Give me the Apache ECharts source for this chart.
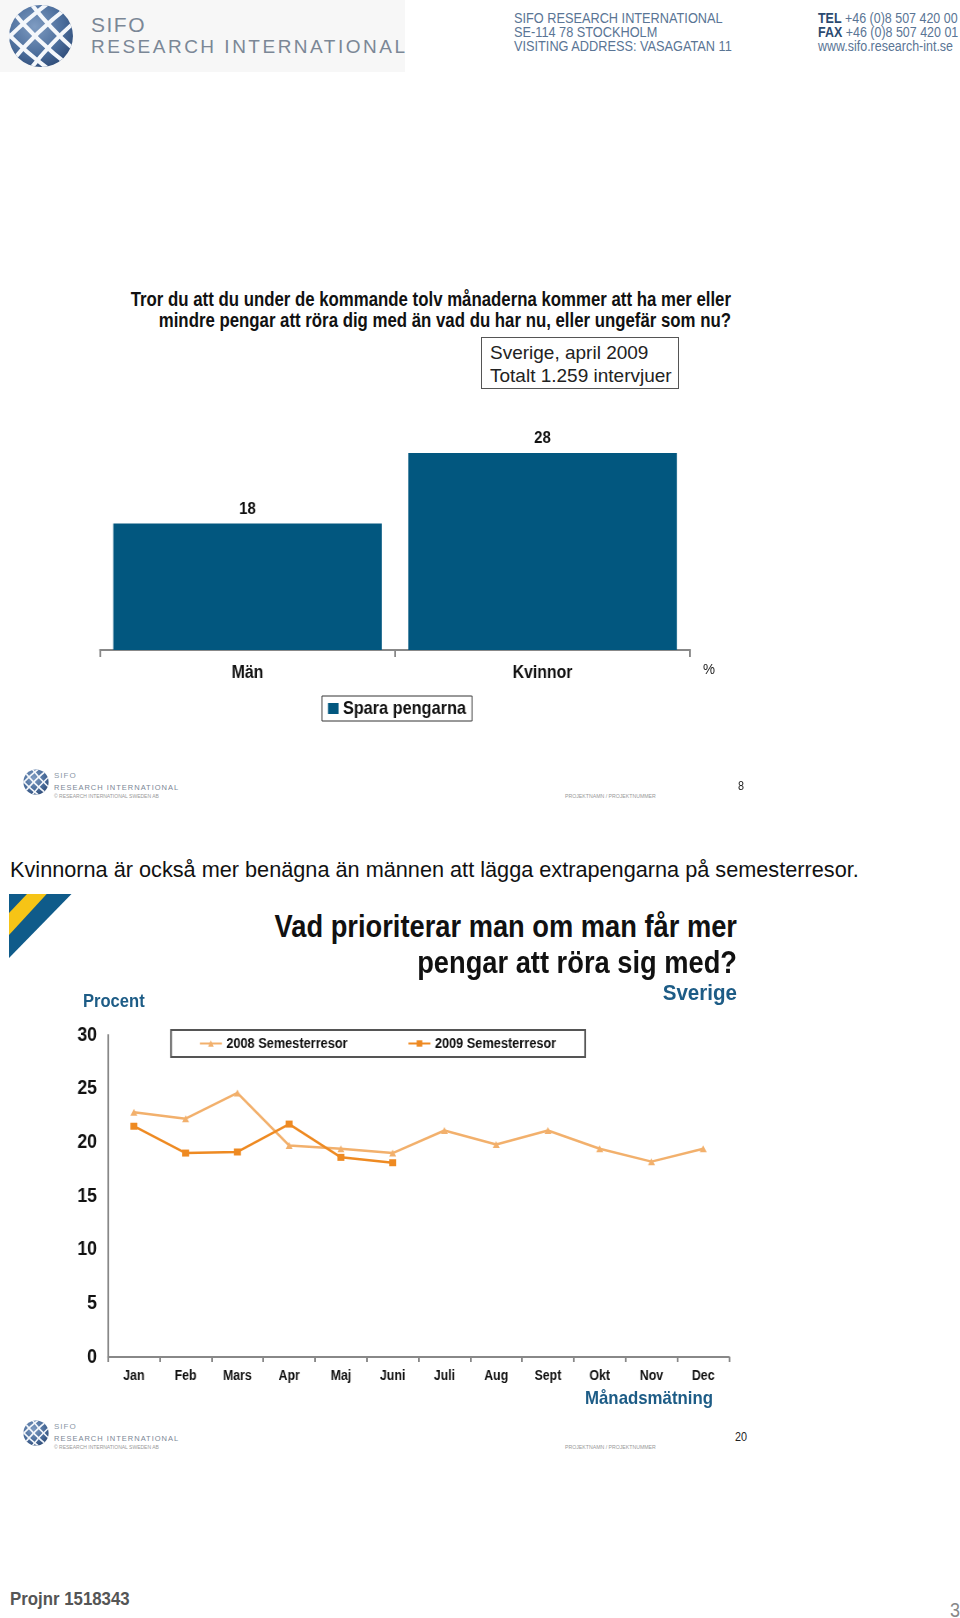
<!DOCTYPE html>
<html><head><meta charset="utf-8">
<script src="https://cdn.jsdelivr.net/npm/echarts@6/dist/echarts.min.js"></script>
<style>
html,body{margin:0;padding:0;background:#fff;}
#page{position:relative;width:960px;height:1618px;overflow:hidden;background:#fff;font-family:"Liberation Sans",Arial,sans-serif;}
.t{position:absolute;white-space:nowrap;line-height:1.15;}
.ch{position:absolute;left:0;transform-origin:0 0;}
</style></head><body><div id="page">
<div style="position:absolute;left:0;top:0;width:405px;height:72px;background:#f7f7f7"></div>
<div id="c1" class="ch"></div>
<div id="c2" class="ch"></div>
</div>
<script>
// ---- data ----
const barCategories = ['Män', 'Kvinnor'];
const barValues = [18, 28];
const barSeriesName = 'Spara pengarna';
const months = ['Jan','Feb','Mars','Apr','Maj','Juni','Juli','Aug','Sept','Okt','Nov','Dec'];
const sem2008 = [22.8, 22.2, 24.6, 19.7, 19.4, 19.0, 21.1, 19.8, 21.1, 19.4, 18.2, 19.4];
const sem2009 = [21.5, 19.0, 19.1, 21.7, 18.6, 18.1];
const lineNames = ['2008 Semesterresor', '2009 Semesterresor'];
const yTicks = {min: 0, max: 30, interval: 5};

const REG = '"Liberation Sans",Arial,sans-serif';
const BLUE = '#1d5c86';
const page = document.getElementById('page');

// text helper: x,y = anchor point (y = vertical centre); sx = horizontal condensing
function T(txt, x, y, o) {
  o = o || {};
  const d = document.createElement('div');
  d.className = 't';
  if (o.html) d.innerHTML = txt; else d.textContent = txt;
  d.style.left = x + 'px'; d.style.top = y + 'px';
  d.style.fontSize = (o.s || 14) + 'px';
  if (o.b) d.style.fontWeight = 'bold';
  d.style.fontFamily = REG;
  d.style.color = o.c || '#111';
  if (o.ls) d.style.letterSpacing = o.ls + 'px';
  const ax = o.a === 'r' ? 100 : (o.a === 'c' ? 50 : 0);
  d.style.transformOrigin = ax + '% 50%';
  d.style.transform = 'translate(-' + ax + '%,-50%) scaleX(' + (o.sx || 1) + ')';
  page.appendChild(d);
  return d;
}

function logo(x, y, w, h, id) {
  const s = document.createElementNS('http://www.w3.org/2000/svg', 'svg');
  s.setAttribute('width', w); s.setAttribute('height', h);
  s.setAttribute('viewBox', '0 0 64 64');
  s.setAttribute('preserveAspectRatio', 'none');
  s.style.position = 'absolute'; s.style.left = x + 'px'; s.style.top = y + 'px';
  let lines = '';
  [-24, 0, 24].forEach(c => {
    lines += '<path d="M' + (-6 + c) + ' -6 Q' + (26 + c) + ' 38 ' + (70 + c) + ' 70"/>';
    lines += '<path d="M' + (70 + c) + ' -6 Q' + (26 + c) + ' 26 ' + (-6 + c) + ' 70"/>';
  });
  s.innerHTML = '<defs><radialGradient id="g' + id + '" cx="40%" cy="35%" r="75%"><stop offset="0" stop-color="#7f9cc2"/><stop offset="0.6" stop-color="#4b6d9b"/><stop offset="1" stop-color="#2a4672"/></radialGradient>' +
    '<clipPath id="cp' + id + '"><ellipse cx="32" cy="32" rx="31" ry="31"/></clipPath></defs>' +
    '<ellipse cx="32" cy="32" rx="31" ry="31" fill="url(#g' + id + ')"/>' +
    '<g clip-path="url(#cp' + id + ')" stroke="#f4f7fb" stroke-width="4" fill="none">' + lines + '</g>';
  page.appendChild(s);
}

// ---- header ----
logo(8, 4, 66, 64, 'h');
T('SIFO', 91, 25, {s: 21, c: '#7b8796', ls: 1.5});
T('RESEARCH INTERNATIONAL', 91, 47, {s: 19, c: '#7b8796', ls: 2.5});
const HC = '#5a7595';
T('SIFO RESEARCH INTERNATIONAL', 514, 18, {s: 14, c: HC, sx: 0.91});
T('SE-114 78 STOCKHOLM', 514, 32, {s: 14, c: HC, sx: 0.91});
T('VISITING ADDRESS: VASAGATAN 11', 514, 46, {s: 14, c: HC, sx: 0.91});
T('<b style="color:#2b4a70">TEL</b> +46 (0)8 507 420 00', 818, 18, {s: 14, c: HC, html: 1, sx: 0.89});
T('<b style="color:#2b4a70">FAX</b> +46 (0)8 507 420 01', 818, 32, {s: 14, c: HC, html: 1, sx: 0.89});
T('www.sifo.research-int.se', 818, 46, {s: 14, c: HC, sx: 0.89});

// ---- question 1 ----
T('Tror du att du under de kommande tolv månaderna kommer att ha mer eller', 731, 299, {s: 20, b: 1, a: 'r', sx: 0.84});
T('mindre pengar att röra dig med än vad du har nu, eller ungefär som nu?', 731, 320, {s: 20, b: 1, a: 'r', sx: 0.84});
const box = document.createElement('div');
box.style.cssText = 'position:absolute;left:481px;top:337px;width:198px;height:52px;border:1px solid #555;box-sizing:border-box';
page.appendChild(box);
T('Sverige, april 2009', 490, 353, {s: 19, c: '#222'});
T('Totalt 1.259 intervjuer', 490, 376, {s: 19, c: '#222'});
T('%', 703, 669, {s: 15, c: '#222', sx: 0.9});

// ---- footers ----
function footer(y0, num) {
  logo(23, y0, 26, 26, 'f' + num);
  T('SIFO', 54, y0 + 7, {s: 8, c: '#8a97a6', ls: 1});
  T('RESEARCH INTERNATIONAL', 54, y0 + 19, {s: 7.5, c: '#7b8796', ls: 1});
  T('© RESEARCH INTERNATIONAL SWEDEN AB', 54, y0 + 28, {s: 5, c: '#999'});
  T('PROJEKTNAMN / PROJEKTNUMMER', 565, y0 + 28, {s: 5.2, c: '#999'});
  T(String(num), 741, y0 + 18, {s: 12, c: '#222', a: 'c', sx: 0.9});
}
footer(769, 8);
footer(1420, 20);

// ---- section 2 texts ----
T('Kvinnorna är också mer benägna än männen att lägga extrapengarna på semesterresor.', 10, 870, {s: 21.7, c: '#111'});
const fl = document.createElementNS('http://www.w3.org/2000/svg', 'svg');
fl.setAttribute('width', 64); fl.setAttribute('height', 66);
fl.style.cssText = 'position:absolute;left:9px;top:894px';
fl.innerHTML = '<polygon points="0,0 62.5,0 0,64" fill="#0f5b8a"/><polygon points="18,0 37.7,0 0,41 0,19" fill="#f6c416"/>';
page.appendChild(fl);
T('Vad prioriterar man om man får mer', 737, 927, {s: 31, b: 1, a: 'r', sx: 0.88});
T('pengar att röra sig med?', 737, 963, {s: 31, b: 1, a: 'r', sx: 0.88});
T('Sverige', 737, 993, {s: 22, b: 1, a: 'r', c: BLUE, sx: 0.935});
T('Procent', 83, 1001, {s: 18, b: 1, c: BLUE, sx: 0.92});
T('Månadsmätning', 585, 1398, {s: 19, b: 1, c: BLUE, sx: 0.885});
T('Projnr 1518343', 10, 1599, {s: 19, b: 1, c: '#555', sx: 0.885});
T('3', 950, 1610, {s: 20, c: '#888', sx: 0.9});

// ---- chart containers are drawn wider and condensed horizontally (narrow type) ----
const SX = 0.88;
function box2(id, top, h) {
  const el = document.getElementById(id);
  el.style.top = top + 'px';
  el.style.width = (960 / SX) + 'px';
  el.style.height = h + 'px';
  el.style.transform = 'scaleX(' + SX + ')';
  return el;
}
const px = v => v / SX; // page px -> container px (horizontal)
const bold = (sz, col) => ({fontFamily: REG, fontWeight: 'bold', fontSize: sz, color: col || '#111'});

// ---- chart 1: bars ----
const c1 = echarts.init(box2('c1', 400, 340));
c1.setOption({
  animation: false,
  grid: {left: px(100), right: px(270), top: 39, bottom: 90},
  xAxis: {type: 'category', data: barCategories,
    axisLine: {lineStyle: {color: '#888', width: 2}},
    axisTick: {show: true, length: 7, lineStyle: {color: '#888', width: 2}},
    axisLabel: Object.assign({margin: 14}, bold(18))},
  yAxis: {type: 'value', min: 0, max: 30, show: false},
  legend: {left: px(322), top: 296, padding: [3, px(6), 3, px(6)], borderColor: '#333', borderWidth: 1,
    itemWidth: px(10.5), itemHeight: 11, icon: 'rect', itemGap: 4, textStyle: bold(18.5), data: [barSeriesName]},
  series: [{type: 'bar', name: barSeriesName, data: barValues, barCategoryGap: '9%',
    itemStyle: {color: '#02577f'},
    label: Object.assign({show: true, position: 'top', distance: 6}, bold(17))}]
});

// ---- chart 2: lines ----
const C08 = '#f2b06c', C09 = '#ee8a22';
const c2 = echarts.init(box2('c2', 980, 440));
c2.setOption({
  animation: false,
  grid: {left: px(108), right: px(231), top: 55, bottom: 63},
  legend: {left: px(171), top: 50, padding: [6, px(29), 6, px(28)], itemGap: px(60), borderColor: '#555', borderWidth: 2,
    itemWidth: px(22), itemHeight: 8, textStyle: bold(14.5), data: lineNames},
  xAxis: {type: 'category', data: months, boundaryGap: true,
    axisLine: {lineStyle: {color: '#888', width: 2}},
    axisTick: {show: true, length: 5, lineStyle: {color: '#888', width: 2}},
    axisLabel: Object.assign({margin: 12}, bold(14))},
  yAxis: {type: 'value', min: yTicks.min, max: yTicks.max, interval: yTicks.interval,
    axisLine: {show: true, lineStyle: {color: '#888', width: 2}},
    axisTick: {show: false}, splitLine: {show: false},
    axisLabel: Object.assign({margin: px(11)}, bold(20))},
  series: [
    {name: lineNames[0], type: 'line', data: sem2008, symbol: 'triangle', symbolSize: [px(7), 7],
      lineStyle: {width: 2.5, color: C08}, itemStyle: {color: C08}},
    {name: lineNames[1], type: 'line', data: sem2009, symbol: 'rect', symbolSize: [px(7), 7],
      lineStyle: {width: 2.5, color: C09}, itemStyle: {color: C09}}
  ]
});
</script>
</body></html>
